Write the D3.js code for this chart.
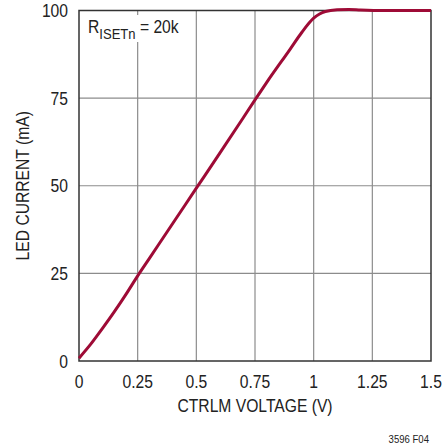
<!DOCTYPE html>
<html>
<head>
<meta charset="utf-8">
<script src="https://cdn.jsdelivr.net/npm/d3@7"></script>
<style>
  body { margin: 0; background: #fff; }
  svg text { font-family: "Liberation Sans", Arial, sans-serif; fill: #222; }
</style>
</head>
<body>
<div id="chart"></div>
<script>
const voltage = [0, 0.05, 0.1, 0.15, 0.2, 0.25, 0.3, 0.4, 0.5, 0.6, 0.7, 0.75, 0.8, 0.9, 0.95, 1.0, 1.025, 1.05, 1.1, 1.15, 1.2, 1.3, 1.4, 1.5];
const current = [0.8, 4.8, 9.3, 14.0, 19.0, 24.3, 29.3, 39.3, 49.3, 59.3, 69.4, 74.5, 79.5, 89.0, 93.8, 97.8, 99.0, 99.7, 100.2, 100.3, 100.15, 100, 100, 100];
const xTicks = [0, 0.25, 0.5, 0.75, 1, 1.25, 1.5];
const xTickLabels = ['0', '0.25', '0.5', '0.75', '1', '1.25', '1.5'];
const yTicks = [0, 25, 50, 75, 100];

const width = 445;
const height = 447;
const margin = { top: 10.5, right: 14, bottom: 86, left: 79 };
const squeeze = 0.87; // condensed look

const svg = d3.select('#chart').append('svg')
    .attr('width', width)
    .attr('height', height);

const x = d3.scaleLinear().domain([0, 1.5]).range([margin.left, width - margin.right]);
const y = d3.scaleLinear().domain([0, 100]).range([height - margin.bottom, margin.top]);

// text placed at (px, py), squeezed horizontally
const addText = (parent, px, py, str, size, anchor, rot = 0) => {
    const g = parent.append('g')
        .attr('transform', `translate(${px},${py}) rotate(${rot}) scale(${squeeze},1)`);
    return g.append('text')
        .attr('text-anchor', anchor)
        .style('font-size', size + 'px')
        .text(str);
};

// grid
svg.append('g')
    .selectAll('line')
    .data(xTicks.slice(1, -1))
    .enter()
    .append('line')
    .attr('x1', d => x(d)).attr('x2', d => x(d))
    .attr('y1', y(0)).attr('y2', y(100))
    .attr('stroke', '#8c8c8c').attr('stroke-width', 1.2);

svg.append('g')
    .selectAll('line')
    .data(yTicks.slice(1, -1))
    .enter()
    .append('line')
    .attr('x1', x(0)).attr('x2', x(1.5))
    .attr('y1', d => y(d)).attr('y2', d => y(d))
    .attr('stroke', '#8c8c8c').attr('stroke-width', 1.2);

// frame
svg.append('rect')
    .attr('x', x(0)).attr('y', y(100))
    .attr('width', x(1.5) - x(0)).attr('height', y(0) - y(100))
    .attr('fill', 'none').attr('stroke', '#333').attr('stroke-width', 1.5);

// label box
svg.append('rect')
    .attr('x', 83).attr('y', 15)
    .attr('width', 103).attr('height', 27)
    .attr('fill', '#fff');

const label = addText(svg, 88, 33, '', 18, 'start');
label.append('tspan').text('R');
label.append('tspan').attr('dy', 6).style('font-size', '15px').text('ISETn');
label.append('tspan').attr('dy', -6).text(' = 20k');

// curve
const line = d3.line()
    .x((d, i) => x(voltage[i]))
    .y(d => y(d))
    .curve(d3.curveMonotoneX);

svg.append('path')
    .datum(current)
    .attr('d', line)
    .attr('fill', 'none')
    .attr('stroke', '#9e0b36')
    .attr('stroke-width', 3)
    .attr('stroke-linejoin', 'round');

// tick labels
xTicks.forEach((d, i) => addText(svg, x(d), 388, xTickLabels[i], 18, 'middle'));
yTicks.forEach(d => addText(svg, 68, y(d) + 6.5, d, 18, 'end'));

// axis titles
addText(svg, (x(0) + x(1.5)) / 2, 412, 'CTRLM VOLTAGE (V)', 18, 'middle');
addText(svg, 28.5, (y(0) + y(100)) / 2, 'LED CURRENT (mA)', 18, 'middle', -90);

addText(svg, 429, 443, '3596 F04', 11, 'end');
</script>
</body>
</html>
